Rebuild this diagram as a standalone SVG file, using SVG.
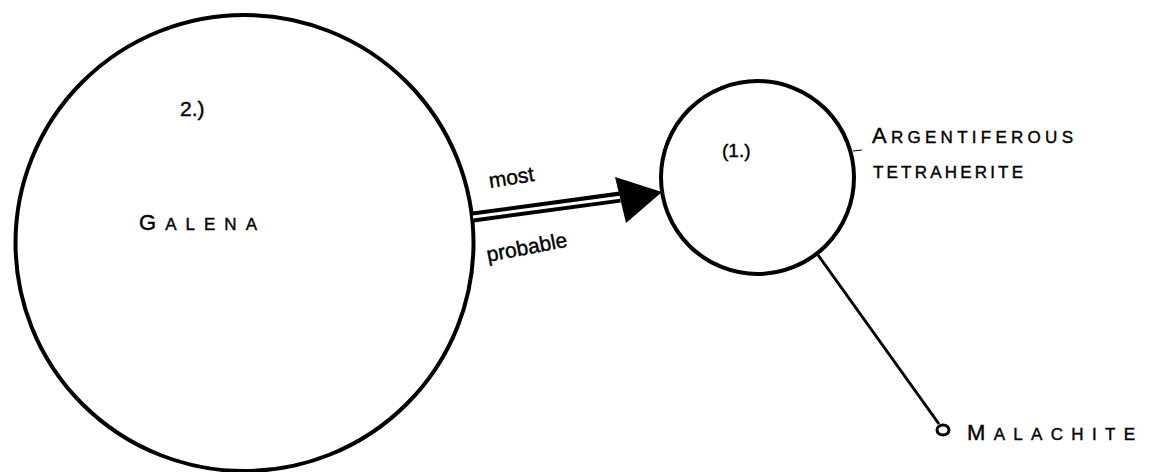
<svg xmlns="http://www.w3.org/2000/svg" width="1156" height="472" viewBox="0 0 1156 472">
<style>
.ring{fill:none;stroke:#000;stroke-width:4}
.lbl{font-family:"Liberation Sans",sans-serif;fill:#000;stroke:#000;stroke-width:0.4}
.cap{font-size:17px}
.big{font-size:22px}
.hand{font-size:21px}
</style>
<rect width="1156" height="472" fill="#fff"/>
<g id="galena">
<ellipse class="ring" cx="244.5" cy="243" rx="229" ry="228"/>
<text class="lbl hand" x="180" y="116">2.)</text>
<text class="lbl cap" x="139" y="230" textLength="118" lengthAdjust="spacing"><tspan class="big">G</tspan>ALENA</text>
</g>
<g id="tetrahedrite">
<circle class="ring" cx="757.5" cy="177.5" r="96.5"/>
<text class="lbl" style="font-size:19px" x="722" y="157">(1.)</text>
<line x1="853" y1="151" x2="862" y2="150" stroke="#000" stroke-width="1"/>
<text class="lbl cap" x="872" y="143" textLength="201" lengthAdjust="spacing"><tspan class="big">A</tspan>RGENTIFEROUS</text>
<text class="lbl cap" x="873" y="178" textLength="150" lengthAdjust="spacing">TETRAHERITE</text>
</g>
<g id="malachite">
<ellipse cx="943" cy="430" rx="6" ry="5" fill="#fff" stroke="#000" stroke-width="3"/>
<text class="lbl cap" x="967" y="440" textLength="168" lengthAdjust="spacing"><tspan class="big">M</tspan>ALACHITE</text>
</g>
<g id="connectors">
<line x1="473" y1="217" x2="620" y2="197" stroke="#000" stroke-width="11"/>
<line x1="473" y1="217" x2="622" y2="197" stroke="#fff" stroke-width="3"/>
<polygon points="615,177 662,192 626,223" fill="#000"/>
<line x1="818" y1="255" x2="939" y2="424" stroke="#000" stroke-width="3"/>
<text class="lbl hand" x="490" y="188" transform="rotate(-9 490 188)">most</text>
<text class="lbl hand" x="488" y="262" transform="rotate(-11 488 262)">probable</text>
</g>
</svg>
